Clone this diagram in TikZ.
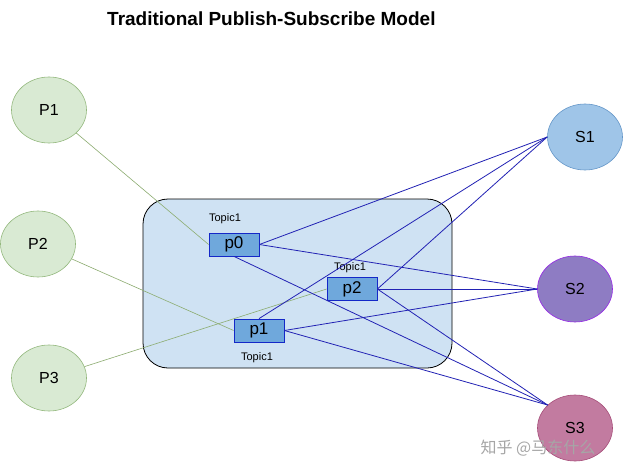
\documentclass[tikz,border=0pt]{standalone}
\usepackage{fontspec}
\setmainfont{Liberation Sans}
\newfontfamily\cjkfont{Noto Sans CJK SC}
\usetikzlibrary{shapes.geometric}

\definecolor{pubFill}{RGB}{217,234,211}
\definecolor{pubBorder}{RGB}{147,184,125}
\definecolor{pubLink}{RGB}{140,172,112}
\definecolor{subLink}{RGB}{34,34,180}
\definecolor{brokerFill}{RGB}{207,226,243}
\definecolor{partFill}{RGB}{111,168,220}
\definecolor{partBorder}{RGB}{20,40,200}
\definecolor{sOneFill}{RGB}{159,197,232}
\definecolor{sOneBorder}{RGB}{100,150,200}
\definecolor{sTwoFill}{RGB}{142,124,195}
\definecolor{sTwoBorder}{RGB}{150,40,230}
\definecolor{sThreeFill}{RGB}{194,123,160}
\definecolor{sThreeBorder}{RGB}{166,77,121}

\begin{document}
\begin{tikzpicture}[x=1pt,y=-1pt,
  client/.style={ellipse,line width=0.6pt,minimum width=75pt,minimum height=66pt,
    inner sep=0pt,font=\fontsize{16}{16}\selectfont},
  part/.style={rectangle,draw=partBorder,fill=partFill,line width=0.8pt,
    minimum width=50pt,minimum height=23pt,inner sep=0pt,font=\fontsize{17}{17}\selectfont},
  topic/.style={inner sep=0pt,font=\fontsize{11}{11}\selectfont},
  publink/.style={draw=pubLink,line width=0.6pt},
  sublink/.style={draw=subLink,line width=0.8pt}]
\path[use as bounding box,fill=white] (0,0) rectangle (624,463);

\node[anchor=west,inner sep=0pt,font=\bfseries\fontsize{19}{19}\selectfont] (title) at (107,19) {Traditional Publish-Subscribe Model};

% broker
\node[draw=black,fill=brokerFill,line width=0.8pt,rounded corners=25pt,
  minimum width=309pt,minimum height=169pt] (broker) at (297.5,283.5) {};

% publishers
\node[client,draw=pubBorder,fill=pubFill] (P1) at (49,110) {P1};
\node[client,draw=pubBorder,fill=pubFill] (P2) at (38,244) {P2};
\node[client,draw=pubBorder,fill=pubFill] (P3) at (49,378) {P3};

% subscribers
\node[client,draw=sOneBorder,fill=sOneFill] (S1) at (585,137) {S1};
\node[client,draw=sTwoBorder,fill=sTwoFill] (S2) at (575,289) {S2};
\node[client,draw=sThreeBorder,fill=sThreeFill] (S3) at (575,428) {S3};

% partitions
\node[part] (p0) at (234,244.5) {p0};
\node[part] (p2) at (352,289) {p2};
\node[part] (p1) at (259,330.5) {p1};

\node[topic] (t0) at (225,219) {Topic1};
\node[topic] (t2) at (350,268) {Topic1};
\node[topic] (t1) at (257,358) {Topic1};

\path[publink] (P1) -- (p0.west);
\path[publink] (P2) -- (p1.west);
\path[publink] (P3) -- (p2.west);

\path[sublink] (p0.east) -- (S1.west);
\path[sublink] (p0.east) -- (S2.west);
\path[sublink] (p0.south) -- (S3.140);
\path[sublink] (p2.east) -- (S1.west);
\path[sublink] (p2.east) -- (S2.west);
\path[sublink] (p2.east) -- (S3.140);
\path[sublink] (p1.north) -- (S1.west);
\path[sublink] (p1.east) -- (S2.west);
\path[sublink] (p1.east) -- (S3.140);

\node[text=gray!70,inner sep=0pt,font=\cjkfont\fontsize{16}{16}\selectfont] (mark) at (538,448) {知乎 @马东什么};
\end{tikzpicture}
\end{document}
